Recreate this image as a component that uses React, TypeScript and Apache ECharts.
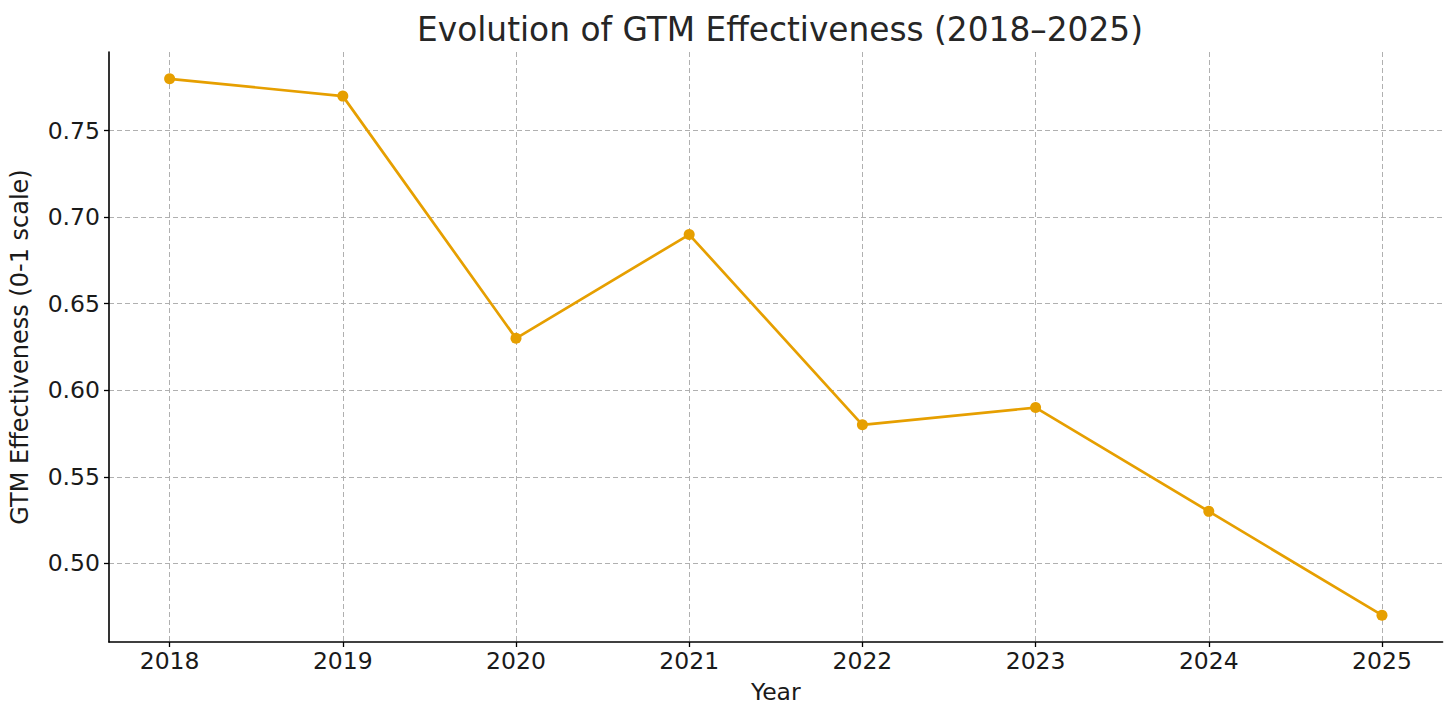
import React, { useEffect, useRef } from "react";
import * as echarts from "echarts";

const years = [2018, 2019, 2020, 2021, 2022, 2023, 2024, 2025];
const effectiveness = [0.78, 0.77, 0.63, 0.69, 0.58, 0.59, 0.53, 0.47];
const yTicks = [0.5, 0.55, 0.6, 0.65, 0.7, 0.75];
const xTicks = years;

export default function App() {
  const ref = useRef<HTMLDivElement>(null);
  useEffect(() => {
    if (!ref.current) return;
    const chart = echarts.init(ref.current, null, { renderer: "svg" });
    const font = "DejaVu Sans";
    const gridLine = { show: true, lineStyle: { color: "#b0b0b0", width: 1, type: [5, 3] as any } };
    chart.setOption({
      animation: false,
      backgroundColor: "#ffffff",
      title: {
        text: "Evolution of GTM Effectiveness (2018–2025)",
        left: 775,
        textAlign: "center",
        top: 8,
        textStyle: { fontFamily: font, fontSize: 32.8, fontWeight: "normal", color: "#262626" },
      },
      grid: { left: 109, right: 13.4, top: 52, bottom: 79, containLabel: false },
      xAxis: {
        type: "value",
        min: 2017.65,
        max: 2025.35,
        name: "Year",
        nameLocation: "middle",
        nameGap: 38,
        nameTextStyle: { fontFamily: font, fontSize: 23.5, color: "#1a1a1a" },
        axisLine: { show: true, onZero: false, lineStyle: { color: "#000", width: 1.6 } },
        axisTick: { show: true, inside: false, length: 5, customValues: xTicks, lineStyle: { color: "#000", width: 1.3 } },
        axisLabel: {
          customValues: xTicks,
          margin: 7,
          fontFamily: font,
          fontSize: 23.5,
          color: "#1a1a1a",
          formatter: (v: number) => String(Math.round(v)),
        },
        splitLine: gridLine,
      },
      yAxis: {
        type: "value",
        min: 0.4545,
        max: 0.7955,
        name: "GTM Effectiveness (0-1 scale)",
        nameLocation: "middle",
        nameGap: 77,
        nameRotate: 90,
        nameTextStyle: { fontFamily: font, fontSize: 24, color: "#1a1a1a" },
        axisLine: { show: true, onZero: false, lineStyle: { color: "#000", width: 1.6 } },
        axisTick: { show: true, inside: false, length: 5, customValues: yTicks, lineStyle: { color: "#000", width: 1.3 } },
        axisLabel: {
          customValues: yTicks,
          margin: 9,
          fontFamily: font,
          fontSize: 23.5,
          color: "#1a1a1a",
          formatter: (v: number) => v.toFixed(2),
        },
        splitLine: gridLine,
      },
      series: [
        {
          type: "line",
          data: years.map((y, i) => [y, effectiveness[i]]),
          symbol: "circle",
          symbolSize: 11,
          lineStyle: { color: "#E69F00", width: 2.7 },
          itemStyle: { color: "#E69F00" },
          clip: false,
        },
      ],
    });
    return () => chart.dispose();
  }, []);
  return <div ref={ref} style={{ position: "absolute", left: 0, top: 0, width: 1456, height: 721 }} />;
}
